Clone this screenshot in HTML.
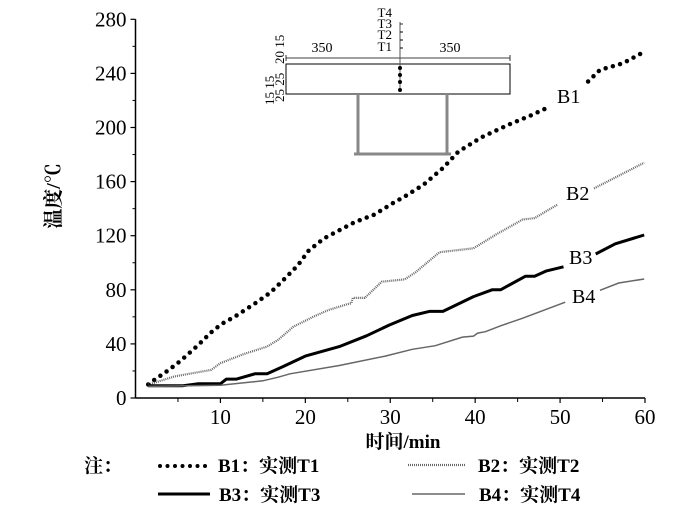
<!DOCTYPE html>
<html><head><meta charset="utf-8"><style>
html,body{margin:0;padding:0;background:#fff;}
svg{display:block;font-family:"Liberation Serif","Noto Serif CJK SC",serif;}
</style></head><body>
<svg id="chart" width="700" height="522" viewBox="0 0 700 522">
<g id="axes"></g>
<g id="series"></g>
<g id="inset" stroke="#000" fill="none">
  <rect x="286" y="64" width="224" height="30" stroke-width="1"/>
  <line x1="358" y1="94" x2="358" y2="153" stroke="#888" stroke-width="3"/>
  <line x1="447" y1="94" x2="447" y2="153" stroke="#888" stroke-width="3"/>
  <line x1="354" y1="154" x2="451" y2="154" stroke="#888" stroke-width="3"/>
  <line x1="286" y1="58" x2="510" y2="58" stroke-width="0.8"/>
  <line x1="286" y1="55" x2="286" y2="61" stroke-width="0.8"/><line x1="510" y1="55" x2="510" y2="61" stroke-width="0.8"/>
  <line x1="400" y1="22" x2="400" y2="92" stroke="#555" stroke-width="1"/>
  <line x1="400" y1="24" x2="403" y2="24" stroke-width="0.8"/><line x1="400" y1="32" x2="403" y2="32"/><line x1="400" y1="40" x2="403" y2="40"/><line x1="400" y1="48" x2="403" y2="48"/>
  <g fill="#000" stroke="none">
    <circle cx="400" cy="68" r="2"/><circle cx="400" cy="75" r="2"/><circle cx="400" cy="82" r="2"/><circle cx="400" cy="90" r="2"/>
    <text x="322" y="52" font-size="14" text-anchor="middle">350</text>
    <text x="450" y="52" font-size="14" text-anchor="middle">350</text>
    <text x="392" y="17" font-size="13" text-anchor="end">T4</text>
    <text x="392" y="28" font-size="13" text-anchor="end">T3</text>
    <text x="392" y="39" font-size="13" text-anchor="end">T2</text>
    <text x="392" y="51" font-size="13" text-anchor="end">T1</text>
    <text transform="translate(284,64) rotate(-90)" font-size="13">20 15</text>
    <text transform="translate(284,102) rotate(-90)" font-size="13">25 25</text>
    <text transform="translate(274,105) rotate(-90)" font-size="13">15 15</text>
  </g>
</g>
<g id="labels" font-size="20">
  <text x="557" y="103">B1</text>
  <text x="566" y="200">B2</text>
  <text x="569" y="264">B3</text>
  <text x="572" y="303">B4</text>
</g>
<text x="403" y="448" font-size="19" font-weight="bold" text-anchor="middle">时间/min</text>
<text transform="translate(60,196) rotate(-90)" font-size="20" font-weight="bold" text-anchor="middle">温度/℃</text>
<g id="legend" font-size="19" font-weight="bold">
  <text x="84" y="472">注：</text>
  <g>
    <line x1="160" y1="466" x2="212" y2="466" stroke="#000" stroke-width="4" stroke-linecap="round" stroke-dasharray="0 7.5"/>
    <text x="218" y="472">B1：实测T1</text></g>
  <g>
    <line x1="408" y1="465" x2="465" y2="465" stroke="#666" stroke-width="2.2" stroke-dasharray="1 1"/>
    <text x="478" y="472">B2：实测T2</text></g>
  <g>
    <line x1="158" y1="494" x2="210" y2="494" stroke="#000" stroke-width="3"/>
    <text x="219" y="501">B3：实测T3</text></g>
  <g>
    <line x1="412" y1="494" x2="465" y2="494" stroke="#666" stroke-width="1.5"/>
    <text x="479" y="501">B4：实测T4</text></g>
</g>
</svg>
<script>
const yTicks=[0,40,80,120,160,200,240,280];
const xTicks=[10,20,30,40,50,60];
const b1Time=[1.5,2.25,3.9,5.3,7.3,8.9,10.1,11.9,14.1,15.9,17.7,19.1,20.4,22.2,24,25.8,28.1,30.3,31.7,33.9,36.2,38,40.7,43.9,46.6,48.8,50.5,53.3,54.7,57.4,59.9];
const b1Temp=[10,13.5,20.6,27.4,38.7,48.5,54.6,61,70,78,89,98,109,118,124,130,135.5,144,149,157.6,170,182,192.6,202,209,215.5,221,234,242.6,247.5,256];
const b2Time=[1.5,4.6,8.9,10,12.8,15.5,16.8,18.6,20.9,22.7,24.9,25.4,25.6,27,29,31.7,33,35.8,39.8,42.5,45.6,47,49.7,54,59.9];
const b2Temp=[9.8,16,20.8,25.7,32.6,38,43,52.7,60,65,69.3,70,74,74,86,87.7,93,107.8,110.7,121,132,133,143,155,174];
const b3Time=[1.5,5.5,7.3,10,10.7,11.9,14.1,15.5,17.3,20,24,27.2,29.9,32.6,34.6,36.2,39.8,42,43,45.9,47,48.4,50.4];
const b3Temp=[9,9,10.5,10.5,14,14,18,18,23,31,38,46,54,61,64,64,75,80,80,90,90,94,97];
const b3bTime=[54.2,56.5,59.9];
const b3bTemp=[106.5,114,120.5];
const b4Time=[1.5,10,15,16.8,18.2,24,29.4,32.6,35.3,38.5,39.8,40.3,41.2,43,45.6,50.6];
const b4Temp=[8.6,9.5,12.7,15.4,17.9,24,31,36,38.7,45,45.8,48,49,53.4,59,70.8];
const b4bTime=[54.7,56.9,59.9];
const b4bTemp=[79.6,85,88];

const NS='http://www.w3.org/2000/svg';
const X0=135.5,X1=645,Y0=398,Y1=19.3;
function xs(t){return X0+(X1-X0)*t/60;}
function ys(v){return Y0-(Y0-Y1)*v/280;}
function mk(tag,attrs,parent){const e=document.createElementNS(NS,tag);for(const k in attrs)e.setAttribute(k,attrs[k]);parent.appendChild(e);return e;}
const axes=document.getElementById('axes');
let a=mk('line',{x1:X0,y1:Y0,x2:X1,y2:Y0,stroke:'#000','stroke-width':1.5},axes);


a=mk('line',{x1:X0,y1:Y0,x2:X0,y2:Y1,stroke:'#000','stroke-width':1.5},axes);


yTicks.forEach(v=>{
  mk('line',{x1:X0-5,y1:ys(v),x2:X0,y2:ys(v),stroke:'#000','stroke-width':1.2},axes);
  if(v<280) mk('line',{x1:X0-3,y1:ys(v+20),x2:X0,y2:ys(v+20),stroke:'#000','stroke-width':1},axes);
  const t=mk('text',{x:X0-9,y:ys(v)+7,'font-size':21,'text-anchor':'end'},axes);
  t.textContent=v;
  
  
});
xTicks.forEach(v=>{
  mk('line',{x1:xs(v),y1:Y0,x2:xs(v),y2:Y0+5,stroke:'#000','stroke-width':1.2},axes);
  mk('line',{x1:xs(v-5),y1:Y0,x2:xs(v-5),y2:Y0+4,stroke:'#000','stroke-width':1},axes);
  const t=mk('text',{x:xs(v),y:Y0+26,'font-size':21,'text-anchor':'middle'},axes);
  t.textContent=v;
  
  
});
const sg=document.getElementById('series');
function pts(T,V){return T.map((t,i)=>xs(t).toFixed(1)+','+ys(V[i]).toFixed(1)).join(' ');}
function line(T,V,style,name){
  const p=mk('polyline',Object.assign({points:pts(T,V),fill:'none'},style),sg);
  
  
}
line(b1Time.slice(0,26),b1Temp.slice(0,26),{stroke:'#000','stroke-width':4.5,'stroke-linecap':'round','stroke-dasharray':'0 7.5'},'series-b1');
line(b1Time.slice(27),b1Temp.slice(27),{stroke:'#000','stroke-width':4.5,'stroke-linecap':'round','stroke-dasharray':'0 7.5'},'series-b1-end');
line(b2Time.slice(0,23),b2Temp.slice(0,23),{stroke:'#666','stroke-width':2.2,'stroke-dasharray':'1 1'},'series-b2');
line(b2Time.slice(23),b2Temp.slice(23),{stroke:'#666','stroke-width':2.2,'stroke-dasharray':'1 1'},'series-b2-end');
line(b3Time,b3Temp,{stroke:'#000','stroke-width':3,'stroke-linejoin':'round'},'series-b3');
line(b3bTime,b3bTemp,{stroke:'#000','stroke-width':3,'stroke-linejoin':'round'},'series-b3-end');
line(b4Time,b4Temp,{stroke:'#666','stroke-width':1.5},'series-b4');
line(b4bTime,b4bTemp,{stroke:'#666','stroke-width':1.5},'series-b4-end');
</script>
</body></html>
